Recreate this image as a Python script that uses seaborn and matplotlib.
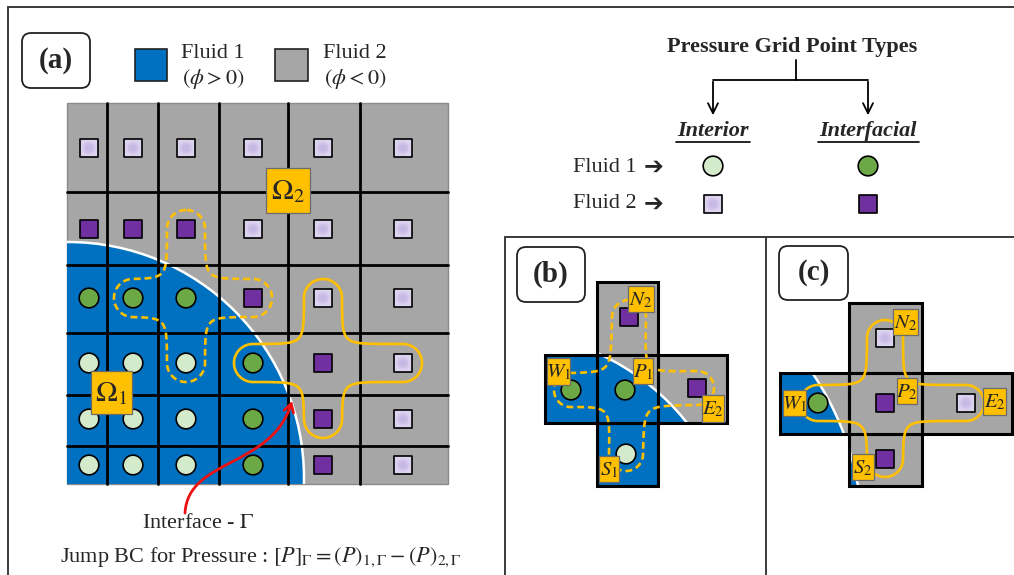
import numpy as np
import pandas as pd
import matplotlib
matplotlib.use("Agg")
import matplotlib.pyplot as plt
import seaborn as sns
from matplotlib.patches import Rectangle, Circle, Polygon, FancyBboxPatch, FancyArrowPatch
from matplotlib.path import Path

sns.set_theme(style="white")
plt.rcParams["font.family"] = ["Liberation Serif", "DejaVu Sans"]
plt.rcParams["mathtext.fontset"] = "stix"
plt.rcParams["lines.dashed_pattern"] = [2.6, 1.5]

BLUE = "#0070C0"
GRAY = "#A6A6A6"
ORANGE = "#FFC000"

# point kinds: A = fluid 1 interior, B = fluid 1 interfacial,
#              C = fluid 2 interior, D = fluid 2 interfacial
kind_colors = {"A": "#D4EBCB", "B": "#6CA846", "C": "#DCD4EF", "D": "#7030A0"}
kind_markers = {"A": "o", "B": "o", "C": "s", "D": "s"}
kind_sizes = {"A": 200, "B": 200, "C": 150, "D": 150}

# panel (a) grid
a_col_edges = [67, 107, 158, 219, 288, 360, 448]
a_row_edges = [103, 192, 265, 333, 395, 446, 484]
a_col_x = [89, 133, 186, 253, 323, 403]
a_row_y = [148, 229, 298, 363, 419, 465]
a_kinds = ["CCCCCC", "DDDCCC", "BBBDCC", "AAABDC", "AAABDC", "AAABDC"]
a_interface = (68, 478, 236)          # circle centre x, y, radius

# stencils: centre, N, S, W, E
a_stencil_dashed = [(186, 298), (186, 229), (186, 363), (133, 298), (253, 298)]
a_stencil_solid = [(323, 363), (323, 298), (323, 419), (253, 363), (403, 363)]

# panel (b)
b_xedges = [545, 597, 658, 727]
b_yedges = [282, 355, 423, 486]
b_pts_x = [571, 625, 697, 629, 626]
b_pts_y = [390, 390, 388, 317, 454]
b_kinds = "BBDDA"
b_interface = (499, 572, 240)
b_stencil = [(625, 390), (629, 317), (626, 454), (571, 390), (697, 388)]
b_labels = [(547, 358, 570, 385, "$W_1$"), (633, 358, 653, 384, "$P_1$"),
            (628, 286, 654, 312, "$N_2$"), (702, 395, 724, 422, "$E_2$"),
            (599, 456, 619, 482, "$S_1$")]

# panel (c)
c_xedges = [780, 849, 922, 1012]
c_yedges = [303, 373, 434, 486]
c_pts_x = [818, 885, 966, 885, 885]
c_pts_y = [403, 403, 403, 338, 459]
c_kinds = "BDCCD"
c_interface = (576, 534, 286)
c_stencil = [(885, 403), (885, 338), (885, 459), (818, 403), (966, 403)]
c_labels = [(893, 309, 918, 335, "$N_2$"), (897, 378, 917, 404, "$P_2$"),
            (983, 388, 1006, 415, "$E_2$"), (783, 390, 806, 416, "$W_1$"),
            (852, 454, 874, 480, "$S_2$")]

# legend points (right top)
leg_x = [713, 868, 713, 868]
leg_y = [166, 166, 204, 204]
leg_kinds = "ABCD"


def seg_dist(X, Y, p, q):
    p = np.asarray(p, float)
    q = np.asarray(q, float)
    d = q - p
    t = np.clip(((X - p[0]) * d[0] + (Y - p[1]) * d[1]) / (d @ d), 0, 1)
    return np.hypot(X - (p[0] + t * d[0]), Y - (p[1] + t * d[1]))


def draw_stencil(ax, pts, r, ls):
    c, n, s, w, e = pts
    xs = np.arange(w[0] - r - 14, e[0] + r + 14, 0.5)
    ys = np.arange(n[1] - r - 14, s[1] + r + 14, 0.5)
    X, Y = np.meshgrid(xs, ys)
    k = 8.0
    f = -k * np.logaddexp(-seg_dist(X, Y, w, e) / k, -seg_dist(X, Y, n, s) / k)
    ax.contour(X, Y, f, levels=[r], colors=ORANGE, linewidths=1.9,
               linestyles=ls, zorder=6)


def label_box(ax, x0, y0, x1, y1, txt, fs=15):
    ax.add_patch(Rectangle((x0, y0), x1 - x0, y1 - y0, facecolor=ORANGE,
                           edgecolor="#6b6b6b", lw=0.9, zorder=8))
    ax.text((x0 + x1) / 2, (y0 + y1) / 2 + 1, txt, ha="center", va="center",
            fontsize=fs, zorder=9)


def draw_cross(ax, xe, ye, interface):
    outline = [(xe[1], ye[0]), (xe[2], ye[0]), (xe[2], ye[1]), (xe[3], ye[1]),
               (xe[3], ye[2]), (xe[2], ye[2]), (xe[2], ye[3]), (xe[1], ye[3]),
               (xe[1], ye[2]), (xe[0], ye[2]), (xe[0], ye[1]), (xe[1], ye[1])]
    poly = Polygon(outline, closed=True, facecolor=GRAY, edgecolor="none", zorder=1)
    ax.add_patch(poly)
    cx, cy, R = interface
    blob = Circle((cx, cy), R, facecolor=BLUE, edgecolor="white", lw=1.8, zorder=2)
    ax.add_patch(blob)
    blob.set_clip_path(poly)
    cells = [(1, 0), (0, 1), (1, 1), (2, 1), (1, 2)]
    for i, j in cells:
        ax.add_patch(Rectangle((xe[i], ye[j]), xe[i + 1] - xe[i], ye[j + 1] - ye[j],
                               facecolor="none", edgecolor="black", lw=2.2, zorder=3))


fig = plt.figure(figsize=(10.14, 5.75), dpi=100)
ax = fig.add_axes([0, 0, 1, 1])

# frame lines
frame_kw = dict(color="#3a3a3a", lw=1.4, zorder=1)
ax.plot([8, 1014], [7, 7], **frame_kw)
ax.plot([8, 8], [7, 575], **frame_kw)
ax.plot([505, 1014], [237, 237], **frame_kw)
ax.plot([505, 505], [237, 575], **frame_kw)
ax.plot([766, 766], [237, 575], **frame_kw)

# ---- panel (a) ----
grid = Rectangle((a_col_edges[0], a_row_edges[0]), a_col_edges[-1] - a_col_edges[0],
                 a_row_edges[-1] - a_row_edges[0], facecolor=GRAY, edgecolor="#8a8a8a",
                 lw=1.0, zorder=1)
ax.add_patch(grid)
blob = Circle(a_interface[:2], a_interface[2], facecolor=BLUE, edgecolor="white",
              lw=1.8, zorder=2)
ax.add_patch(blob)
blob.set_clip_path(grid)
for x in a_col_edges[1:-1]:
    ax.plot([x, x], [a_row_edges[0], a_row_edges[-1]], color="black", lw=2.0, zorder=3)
for y in a_row_edges[1:-1]:
    ax.plot([a_col_edges[0], a_col_edges[-1]], [y, y], color="black", lw=2.0, zorder=3)

# collect all grid points
rows = []
for j, row in enumerate(a_kinds):
    for i, k in enumerate(row):
        rows.append((a_col_x[i], a_row_y[j], k))
for xs, ys, ks in [(b_pts_x, b_pts_y, b_kinds), (c_pts_x, c_pts_y, c_kinds),
                   (leg_x, leg_y, leg_kinds)]:
    rows += list(zip(xs, ys, ks))
pts = pd.DataFrame(rows, columns=["x", "y", "kind"])

# ---- panels (b), (c) cross stencils ----
draw_cross(ax, b_xedges, b_yedges, b_interface)
draw_cross(ax, c_xedges, c_yedges, c_interface)

sns.scatterplot(data=pts, x="x", y="y", hue="kind", style="kind", size="kind",
                palette=kind_colors, markers=kind_markers, sizes=kind_sizes,
                edgecolor="black", linewidth=1.2, legend=False, ax=ax, zorder=5)
# soft purple glow in the centre of the light squares
light = pts[pts["kind"] == "C"]
for s, a in [(95, 0.18), (55, 0.22), (25, 0.28)]:
    ax.scatter(light["x"], light["y"], s=s, marker="o", color="#B9A2DE",
               edgecolor="none", alpha=a, zorder=5.5)

draw_stencil(ax, a_stencil_dashed, 19, "dashed")
draw_stencil(ax, a_stencil_solid, 19, "solid")
draw_stencil(ax, b_stencil, 17, "dashed")
draw_stencil(ax, c_stencil, 18, "solid")

label_box(ax, 266, 168, 310, 213, r"$\Omega_2$", fs=21)
label_box(ax, 91, 371, 132, 414, r"$\Omega_1$", fs=21)
for x0, y0, x1, y1, t in b_labels + c_labels:
    label_box(ax, x0, y0, x1, y1, t)

# panel tags
for (x0, y0, x1, y1, t) in [(22, 33, 90, 88, "(a)"), (517, 247, 585, 302, "(b)"),
                            (779, 246, 848, 300, "(c)")]:
    ax.add_patch(FancyBboxPatch((x0, y0), x1 - x0, y1 - y0,
                                boxstyle="round,pad=0,rounding_size=9",
                                facecolor="white", edgecolor="#222222", lw=1.3, zorder=4))
    ax.text((x0 + x1) / 2, (y0 + y1) / 2, t, ha="center", va="center",
            fontsize=21, fontweight="bold", zorder=5)

# fluid legend
ax.add_patch(Rectangle((135, 49), 32, 32, facecolor=BLUE, edgecolor="#222222", lw=1.2))
ax.add_patch(Rectangle((275, 49), 33, 32, facecolor=GRAY, edgecolor="#222222", lw=1.2))
ax.text(213, 54, "Fluid 1", ha="center", va="center", fontsize=16)
ax.text(213, 79, r"$(\phi > 0)$", ha="center", va="center", fontsize=16)
ax.text(355, 53, "Fluid 2", ha="center", va="center", fontsize=16)
ax.text(355, 79, r"$(\phi < 0)$", ha="center", va="center", fontsize=16)

# interface arrow and captions
curve = Path([(185, 513), (188, 458), (272, 468), (292, 401)],
             [Path.MOVETO, Path.CURVE4, Path.CURVE4, Path.CURVE4])
ax.add_patch(FancyArrowPatch(path=curve, arrowstyle="->,head_length=6,head_width=3.5",
                             color="#ee1111", lw=2.0, zorder=7))
ax.text(198, 524, r"Interface - $\Gamma$", ha="center", va="center", fontsize=16)
ax.text(261, 557, r"Jump BC for Pressure : $[P]_{\Gamma} = (P)_{1,\Gamma} - (P)_{2,\Gamma}$",
        ha="center", va="center", fontsize=16)

# point type legend (top right)
ax.text(792, 47, "Pressure Grid Point Types", ha="center", va="center",
        fontsize=16, fontweight="bold")
ax.plot([796, 796], [60, 80], color="black", lw=1.3)
ax.plot([713, 868], [80, 80], color="black", lw=1.3)
for x in [713, 868]:
    ax.annotate("", xy=(x, 118), xytext=(x, 79),
                arrowprops=dict(arrowstyle="->,head_length=0.6,head_width=0.3",
                                color="black", lw=1.3))
for x, t, x0, x1 in [(713, "Interior", 676, 750), (868, "Interfacial", 818, 919)]:
    ax.text(x, 131, t, ha="center", va="center", fontsize=16,
            fontweight="bold", fontstyle="italic")
    ax.plot([x0, x1], [142, 142], color="black", lw=1.2)
for y, t in [(167, "Fluid 1"), (204, "Fluid 2")]:
    ax.text(605, y, t, ha="center", va="center", fontsize=16)
    ax.text(654, y, "\u2794", ha="center", va="center", fontsize=17,
            fontweight="bold", family="DejaVu Sans")

ax.set_xlim(0, 1014)
ax.set_ylim(575, 0)
ax.set_axis_off()
fig.savefig("out.png", dpi=100, facecolor="white")
